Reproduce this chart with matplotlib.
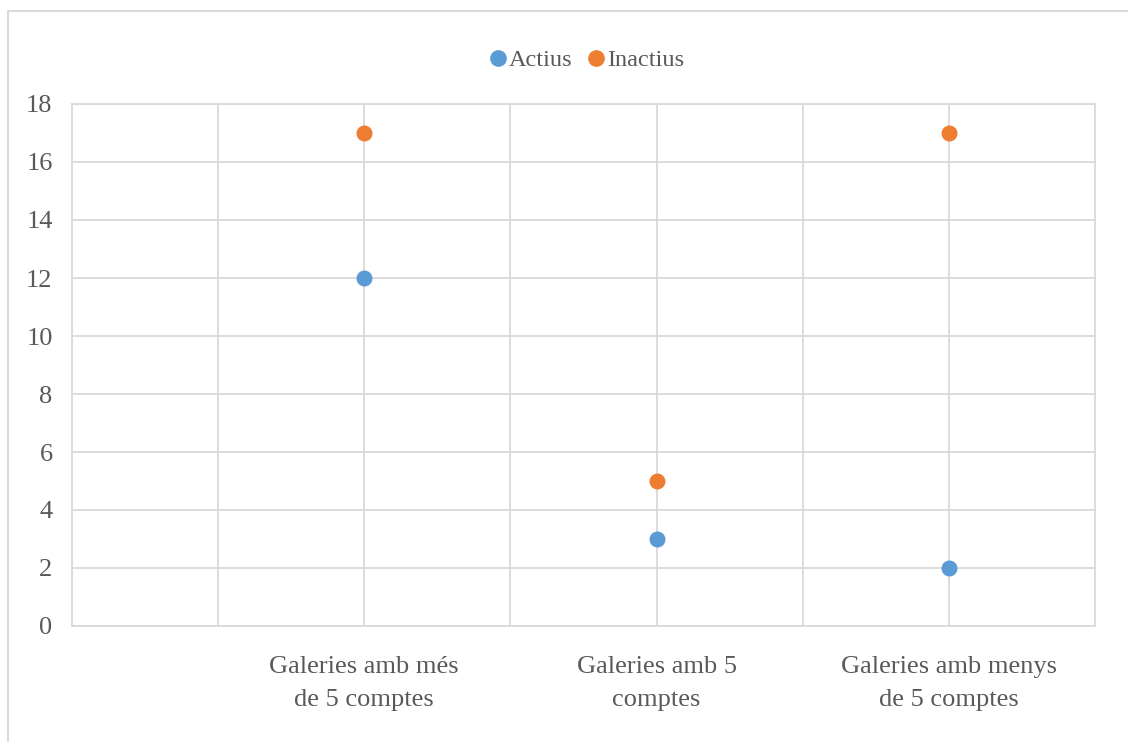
import matplotlib.pyplot as plt
from matplotlib.patches import Rectangle
from matplotlib.lines import Line2D

categories = ["Galeries amb més\nde 5 comptes", "Galeries amb 5\ncomptes", "Galeries amb menys\nde 5 comptes"]
cat_pos = [2, 4, 6]
actius = [12, 3, 2]
inactius = [17, 5, 17]
y_ticks = list(range(0, 19, 2))

blue = "#5b9bd5"
orange = "#ed7d31"
grid = "#d9d9d9"
txt = "#595959"

plt.rcParams["font.family"] = ["Liberation Serif", "DejaVu Serif"]

fig = plt.figure(figsize=(11.28, 7.42), dpi=100)
# outer chart border
fig.patches.append(Rectangle((8 / 1128, -0.1), 1.2, 1 - 11 / 742 + 0.1,
                             transform=fig.transFigure, fill=False,
                             edgecolor=grid, linewidth=1.5))

ax = fig.add_axes([72 / 1128, 1 - 626 / 742, (1095 - 72) / 1128, (626 - 104) / 742])
ax.set_xlim(0, 7)
ax.set_ylim(0, 18)
ax.set_yticks(y_ticks)
ax.set_xticks(range(1, 7), minor=False)
ax.set_xticklabels([])
ax.grid(True, color=grid, linewidth=1.3)
ax.set_axisbelow(True)
for s in ax.spines.values():
    s.set_color(grid)
    s.set_linewidth(1.3)
ax.tick_params(length=0, labelsize=19, colors=txt, pad=14)
ax.tick_params(axis="x", pad=0)

ax.scatter(cat_pos, actius, s=110, color=blue, zorder=3, clip_on=False)
ax.scatter(cat_pos, inactius, s=110, color=orange, zorder=3, clip_on=False)

for x, lab in zip(cat_pos, categories):
    ax.text(x, -1.05, lab, ha="center", va="top", fontsize=19, color=txt,
            linespacing=1.6)

handles = [Line2D([], [], marker="o", linestyle="", color=blue, markersize=11),
           Line2D([], [], marker="o", linestyle="", color=orange, markersize=11)]
fig.legend(handles, ["Actius", "Inactius"], loc="center", bbox_to_anchor=(585 / 1128, 1 - 60 / 742),
           ncol=2, frameon=False, fontsize=17.5, handletextpad=-0.05, columnspacing=0.5,
           labelcolor=txt, handlelength=1.0)

fig.savefig("out.png", dpi=100)
